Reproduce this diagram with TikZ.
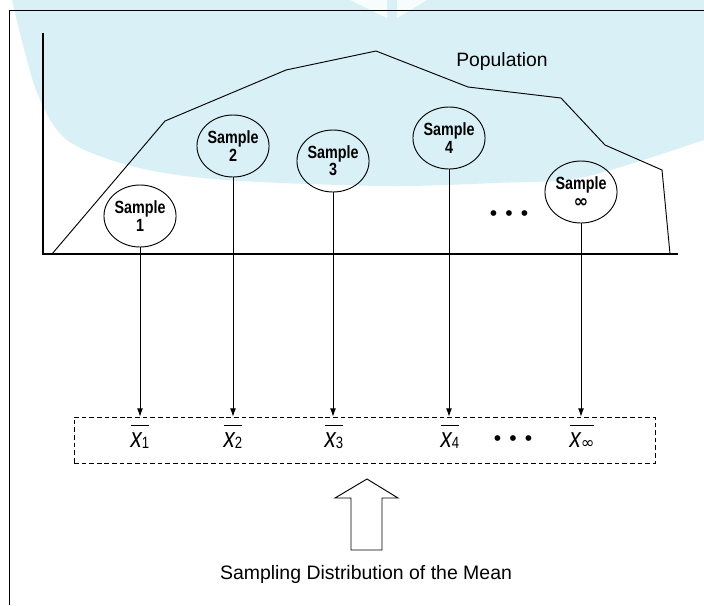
\documentclass[tikz,border=0pt]{standalone}
\usepackage{fontspec}
\setmainfont{Liberation Sans}
\newfontfamily\condfont[FakeStretch=0.81]{Liberation Sans}
\newfontfamily\meanfont[FakeStretch=0.8]{Liberation Sans}
\newfontfamily\symfont{DejaVu Sans}
\usepackage{tikz}
\usepackage{xcolor}
\usetikzlibrary{shapes,arrows,arrows.meta,positioning,fit,calc}

\definecolor{bgblue}{RGB}{217,240,246}

\newcommand{\xmean}[1]{\vbox{\hrule height 1pt\kern 5pt\hbox{{\fontsize{24}{24}\meanfont\itshape x}\raisebox{-1pt}{\fontsize{14}{14}\meanfont #1}}}}
\newcommand{\threedots}{\fontsize{18}{18}\selectfont •\hspace{6.9pt}•\hspace{6.9pt}•}
\newcommand{\bigINF}{{\symfont ∞}}

\begin{document}
\begin{tikzpicture}[x=0.03cm,y=-0.03cm,
    sample/.style={ellipse,draw,line width=0.8pt,minimum width=2.13cm,minimum height=1.86cm,
        inner sep=0pt,align=center,font=\fontsize{15.1}{14.8}\condfont\bfseries},
    stem/.style={-{Latex[length=7pt,width=5pt]},line width=0.7pt},
    meanlbl/.style={anchor=base,inner sep=0pt}]

    \useasboundingbox (0,0) rectangle (704,605);

    % background
    \fill[bgblue] plot[smooth] coordinates {(12,0) (36,90) (67,140) (135,167) (225,180) (385,186) (494,183) (584,177) (704,140)} -- (704,0) -- cycle;
    \fill[white,opacity=0.8] (350,0) -- (387,0) -- (387,18) -- cycle;
    \fill[white,opacity=0.8] (397,0) -- (427,0) -- (397,18) -- cycle;

    \draw[line width=0.8pt] (9,605) -- (9,10) -- (704,10);

    % population
    \draw[line width=1pt] (43,33) -- (43,254) -- (678,254);
    \draw[line width=0.8pt] (52,254) -- (165,121) -- (286,70) -- (376,51) -- (468,87)
        -- (561,98) -- (605,145) -- (662,170) -- (670,254);
    \node[font=\fontsize{16.5}{18}\selectfont] (pop) at (502,61) {Population};

    \node[sample] (s1) at (140,216) {Sample\\1};
    \node[sample] (s2) at (233,146) {Sample\\2};
    \node[sample] (s3) at (333,161) {Sample\\3};
    \node[sample] (s4) at (449,138) {Sample\\4};
    \node[sample] (s5) at (581,192) {Sample\\[1pt]\bigINF};
    \node (dotsup) at (509,216) {\threedots};

    % sample means
    \node[draw,dashed,dash pattern=on 4pt off 2.5pt,line width=0.7pt,inner sep=0pt,
        minimum width=17.43cm,minimum height=1.38cm] (box) at (364.5,440) {};
    \node[meanlbl] (m1) at (140,447) {\xmean{1}};
    \node[meanlbl] (m2) at (233,447) {\xmean{2}};
    \node[meanlbl] (m3) at (334,447) {\xmean{3}};
    \node[meanlbl] (m4) at (450,447) {\xmean{4}};
    \node[meanlbl] (m5) at (582,447) {\xmean{\bigINF}};
    \node (dotsdown) at (513,441) {\threedots};

    \foreach \s in {s1,s2,s3,s4,s5}
        \draw[stem] (\s) -- (\s |- box.north);

    \draw[line width=0.8pt] (367,479) -- (398,498) -- (382,498) -- (382,550) -- (351,550)
        -- (351,498) -- (335,498) -- cycle;
    \node[font=\fontsize{16.6}{18}\selectfont] (caption) at (366,574) {Sampling Distribution of the Mean};

\end{tikzpicture}
\end{document}
